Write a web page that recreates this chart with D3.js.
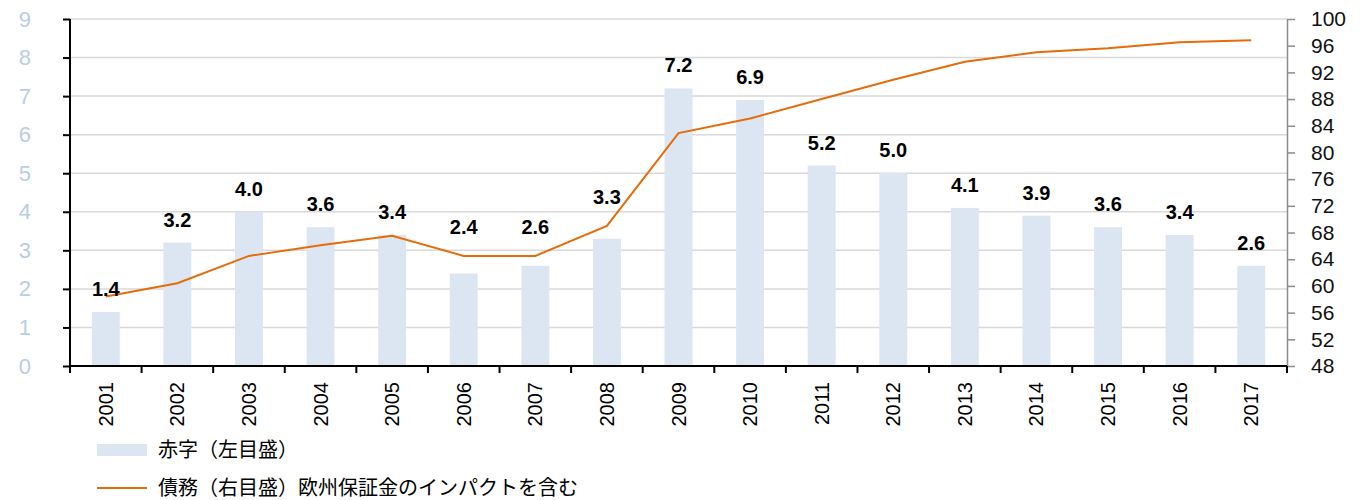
<!DOCTYPE html>
<html>
<head>
<meta charset="utf-8">
<script src="https://cdn.jsdelivr.net/npm/d3@7"></script>
<style>
  body { margin: 0; background: #fff; }
  text { font-family: "Liberation Sans", Arial, "Noto Sans CJK JP", sans-serif; }
</style>
</head>
<body>
<script>
const years = ['2001','2002','2003','2004','2005','2006','2007','2008','2009',
    '2010','2011','2012','2013','2014','2015','2016','2017'];
const deficit = [1.4, 3.2, 4.0, 3.6, 3.4, 2.4, 2.6, 3.3, 7.2, 6.9, 5.2, 5.0, 4.1, 3.9, 3.6, 3.4, 2.6];
const debt = [58.4, 60.4, 64.5, 66.1, 67.5, 64.5, 64.5, 69.0, 82.9, 85.1, 88.0, 90.9, 93.6, 95.0, 95.6, 96.5, 96.8];
const leftTicks = [0, 1, 2, 3, 4, 5, 6, 7, 8, 9];
const rightTicks = [48, 52, 56, 60, 64, 68, 72, 76, 80, 84, 88, 92, 96, 100];
// labels that sit above the line instead of the bar
const liftedLabels = ['2006', '2007', '2008'];
const legendBar = '赤字（左目盛）';
const legendLine = '債務（右目盛）欧州保証金のインパクトを含む';

const W = 1364, H = 500;
const plot = { left: 70, right: 1287, top: 19, bottom: 366 };
const orange = '#e46c0a', barFill = '#dce6f2';

const svg = d3.select('body').append('svg')
    .attr('width', W).attr('height', H);

const x = d3.scaleBand().domain(years).range([plot.left, plot.right]).padding(0);
const yL = d3.scaleLinear().domain([0, 9]).range([plot.bottom, plot.top]);
const yR = d3.scaleLinear().domain([48, 100]).range([plot.bottom, plot.top]);

// gridlines
svg.append('g').selectAll('line')
    .data(leftTicks.filter(d => d > 0))
    .join('line')
    .attr('x1', plot.left).attr('x2', plot.right)
    .attr('y1', d => yL(d)).attr('y2', d => yL(d))
    .attr('stroke', '#d9d9d9').attr('stroke-width', 1.5);

// bars
const bw = x.bandwidth() * 0.39;
svg.append('g').selectAll('rect')
    .data(years)
    .join('rect')
    .attr('x', d => x(d) + x.bandwidth() / 2 - bw / 2)
    .attr('y', (d, i) => yL(deficit[i]))
    .attr('width', bw)
    .attr('height', (d, i) => plot.bottom - yL(deficit[i]))
    .attr('fill', barFill);

// debt line
const line = d3.line()
    .x((d, i) => x(years[i]) + x.bandwidth() / 2)
    .y(d => yR(d));
svg.append('path')
    .datum(debt)
    .attr('d', line)
    .attr('fill', 'none')
    .attr('stroke', orange)
    .attr('stroke-width', 2);

// value labels
svg.append('g').selectAll('text')
    .data(years)
    .join('text')
    .attr('x', d => x(d) + x.bandwidth() / 2)
    .attr('y', (d, i) => liftedLabels.includes(d) ? yR(debt[i]) - 22 : yL(deficit[i]) - 16)
    .attr('text-anchor', 'middle')
    .attr('font-size', 20).attr('font-weight', 'bold')
    .attr('fill', '#000')
    .text((d, i) => deficit[i].toFixed(1));

// left axis
const gL = svg.append('g')
    .attr('transform', `translate(${plot.left},0)`)
    .call(d3.axisLeft(yL).tickValues(leftTicks).tickSize(7).tickPadding(0).tickSizeOuter(0));
gL.select('.domain').attr('stroke', '#000').attr('stroke-width', 2)
    .attr('d', `M0,${plot.top}V${plot.bottom + 4}`);
gL.selectAll('.tick line').attr('stroke', '#000').attr('stroke-width', 2);
gL.selectAll('.tick text')
    .attr('x', -39)
    .attr('font-size', 22)
    .attr('font-family', '"Liberation Sans", Arial, sans-serif')
    .attr('fill', '#b9cde5');

// right axis
const gR = svg.append('g')
    .attr('transform', `translate(${plot.right},0)`)
    .call(d3.axisRight(yR).tickValues(rightTicks).tickSize(8).tickSizeOuter(0));
gR.select('.domain').attr('stroke', '#8c8c8c').attr('stroke-width', 1.5);
gR.selectAll('.tick line').attr('stroke', '#8c8c8c').attr('stroke-width', 1.5);
gR.selectAll('.tick text')
    .attr('x', 24)
    .attr('font-size', 21)
    .attr('font-family', '"Liberation Sans", Arial, sans-serif')
    .attr('fill', '#111');

// bottom axis
const gX = svg.append('g')
    .attr('transform', `translate(0,${plot.bottom})`);
gX.append('line')
    .attr('x1', plot.left - 1).attr('x2', plot.right)
    .attr('stroke', '#000').attr('stroke-width', 2);
gX.selectAll('.xt')
    .data(years.concat(['end']))
    .join('line')
    .attr('class', 'xt')
    .attr('x1', (d, i) => i < years.length ? x(d) : plot.right)
    .attr('x2', (d, i) => i < years.length ? x(d) : plot.right)
    .attr('y1', 0).attr('y2', 7)
    .attr('stroke', '#000').attr('stroke-width', 2);
gX.selectAll('.xl')
    .data(years)
    .join('text')
    .attr('class', 'xl')
    .attr('transform', d => `translate(${x(d) + x.bandwidth() / 2},16) rotate(-90)`)
    .attr('text-anchor', 'end')
    .attr('dominant-baseline', 'central')
    .attr('font-size', 20)
    .attr('fill', '#000')
    .text(d => d);

// legend
const lg = svg.append('g');
lg.append('rect')
    .attr('x', 97).attr('y', 444).attr('width', 50).attr('height', 12)
    .attr('fill', barFill);
lg.append('text')
    .attr('x', 158).attr('y', 450)
    .attr('dominant-baseline', 'central')
    .attr('font-size', 20)
    .attr('font-family', '"Noto Sans CJK JP", sans-serif')
    .attr('fill', '#000')
    .text(legendBar);
lg.append('line')
    .attr('x1', 97).attr('x2', 147).attr('y1', 488).attr('y2', 488)
    .attr('stroke', orange).attr('stroke-width', 2);
lg.append('text')
    .attr('x', 158).attr('y', 488)
    .attr('dominant-baseline', 'central')
    .attr('font-size', 20)
    .attr('font-family', '"Noto Sans CJK JP", sans-serif')
    .attr('fill', '#000')
    .text(legendLine);
</script>
</body>
</html>
